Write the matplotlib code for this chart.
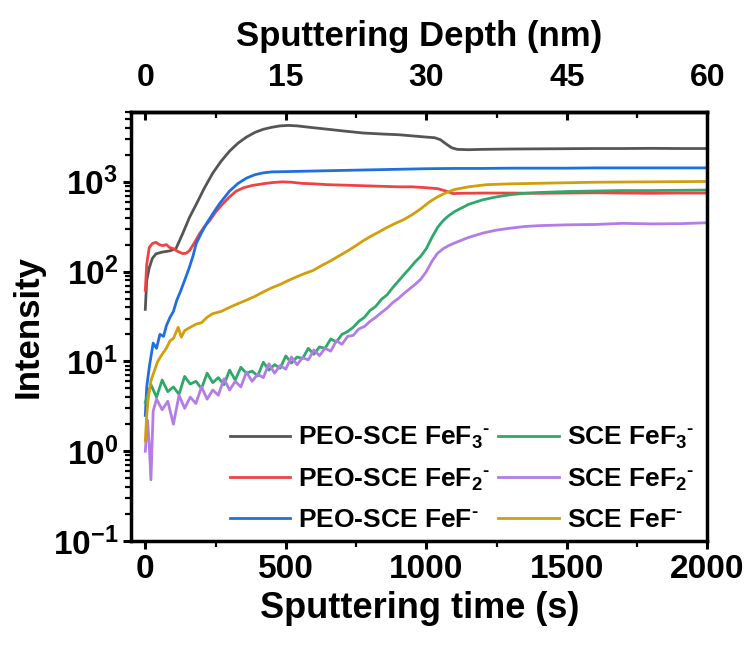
"""ToF-SIMS depth profiles of FeFx- fragments for PEO-SCE and SCE."""
import numpy as np
import matplotlib
matplotlib.use("Agg")
import matplotlib.pyplot as plt
from matplotlib.ticker import FixedLocator, LogLocator, NullFormatter

plt.rcParams["font.family"] = ["Liberation Sans", "DejaVu Sans"]
plt.rcParams["font.weight"] = "bold"
plt.rcParams["mathtext.fontset"] = "custom"
plt.rcParams["mathtext.rm"] = "Liberation Sans:bold"
plt.rcParams["mathtext.bf"] = "Liberation Sans:bold"
plt.rcParams["mathtext.it"] = "Liberation Sans:bold"
plt.rcParams["mathtext.default"] = "bf"

# sputtering time (s) and intensity
peo_fef3_t = [0, 5, 14, 25, 38, 60, 86, 109, 133, 157, 181, 210, 240, 270, 300, 330, 360, 390,
              420, 450, 480, 510, 540, 600, 650, 700, 775, 850, 900, 950, 1000, 1030, 1050,
              1070, 1090, 1110, 1150, 1200, 1300, 1400, 1500, 1600, 1700, 1800, 1900, 2000]
peo_fef3 = [38, 80, 110, 140, 158, 165, 170, 180, 265, 400, 560, 850, 1250, 1700, 2200, 2700,
            3150, 3550, 3850, 4050, 4200, 4250, 4200, 4000, 3850, 3700, 3500, 3400, 3350, 3250,
            3150, 3100, 2950, 2650, 2400, 2300, 2280, 2300, 2320, 2330, 2340, 2350, 2350, 2360,
            2350, 2350]

peo_fef2_t = [0, 5, 14, 25, 38, 50, 62, 75, 86, 100, 115, 133, 145, 157, 175, 193, 210, 229,
              250, 276, 300, 324, 350, 380, 417, 450, 488, 520, 560, 600, 650, 700, 750, 800,
              850, 900, 950, 1000, 1040, 1070, 1095, 1120, 1200, 1300, 1400, 1500, 1600, 1700,
              1800, 1900, 2000]
peo_fef2 = [62, 120, 186, 205, 212, 200, 195, 200, 186, 180, 168, 159, 160, 171, 210, 264, 315,
            370, 460, 570, 680, 790, 860, 910, 950, 980, 1000, 990, 960, 950, 930, 920, 910, 900,
            890, 880, 880, 860, 840, 790, 740, 745, 750, 750, 745, 750, 755, 750, 745, 750, 750]

peo_fef_t = [0, 5, 15, 28, 40, 52, 65, 75, 88, 100, 112, 125, 140, 157, 170, 181, 200, 217, 240,
             264, 300, 330, 360, 390, 420, 450, 500, 600, 700, 800, 900, 1000, 1100, 1200, 1300,
             1400, 1500, 1600, 1700, 1800, 1900, 2000]
peo_fef = [2.5, 5.2, 9, 16, 14, 20, 19, 25, 31, 36, 48, 60, 80, 112, 150, 205, 270, 340, 440,
           570, 790, 960, 1100, 1200, 1260, 1290, 1300, 1320, 1340, 1360, 1380, 1400, 1410,
           1410, 1420, 1420, 1420, 1430, 1430, 1430, 1430, 1430]

sce_fef3_t = [0, 20, 40, 60, 80, 100, 120, 140, 160, 180, 200, 220, 240, 260, 280, 300, 320,
              340, 360, 380, 400, 420, 440, 460, 480, 500, 520, 540, 560, 580, 600, 620, 640,
              660, 680, 700, 720, 740, 760, 780, 800, 820, 840, 860, 880, 900, 920, 940, 960,
              980, 1000, 1020, 1040, 1060, 1080, 1100, 1150, 1200, 1250, 1300, 1350, 1400, 1500,
              1600, 1700, 1800, 1900, 2000]
sce_fef3 = [3.5, 5.5, 4.0, 6.2, 4.6, 5.2, 4.3, 6.8, 5.6, 6.0, 5.0, 7.4, 5.8, 6.6, 5.5, 8.0, 6.2,
            8.6, 7.4, 7.8, 6.9, 9.8, 8.0, 9.2, 8.4, 11.5, 9.6, 11.2, 10.8, 14.0, 12.0, 14.5,
            14.0, 17.8, 16.5, 20, 21.5, 24, 28, 31, 37, 41, 49, 55, 66, 78, 92, 108, 128, 148,
            180, 240, 310, 370, 420, 465, 560, 630, 680, 720, 745, 760, 780, 790, 800, 800, 805,
            810]

sce_fef2_t = [0, 8, 14, 20, 28, 40, 60, 80, 100, 120, 140, 160, 180, 200, 220, 240, 260, 280,
              300, 320, 340, 360, 380, 400, 420, 440, 460, 480, 500, 520, 540, 560, 580, 600,
              620, 640, 660, 680, 700, 720, 740, 760, 780, 800, 820, 840, 860, 880, 900, 920,
              940, 960, 980, 1000, 1020, 1040, 1060, 1080, 1100, 1150, 1200, 1250, 1300, 1350,
              1400, 1500, 1600, 1700, 1800, 1900, 2000]
sce_fef2 = [1.0, 2.2, 1.2, 0.48, 2.8, 3.8, 2.9, 3.6, 2.0, 4.2, 3.0, 4.0, 3.4, 5.2, 3.8, 4.8, 4.2,
            6.4, 4.8, 6.0, 5.2, 7.6, 6.0, 7.2, 6.6, 9.4, 7.4, 9.0, 8.2, 11.2, 9.2, 11.0, 10.4,
            13.4, 11.6, 14.0, 13.0, 17.0, 15.5, 19.0, 19.5, 23, 24.5, 28, 31, 35, 39, 45, 50,
            57, 64, 72, 82, 100, 130, 160, 180, 195, 208, 240, 268, 290, 305, 318, 325, 332,
            335, 345, 340, 342, 350]

sce_fef_t = [0, 5, 10, 20, 30, 44, 60, 75, 88, 100, 117, 128, 140, 160, 181, 200, 220, 240, 270,
             300, 330, 359, 390, 418, 450, 480, 510, 540, 570, 597, 630, 660, 690, 720, 750, 775,
             800, 830, 860, 890, 920, 953, 980, 1012, 1040, 1072, 1100, 1150, 1215, 1300, 1450,
             1600, 1800, 2000]
sce_fef = [1.3, 2.5, 3.8, 6.1, 7.5, 10, 12, 14, 17, 18, 24, 18.6, 22, 24, 26, 27, 31, 34, 36,
           40, 44, 48, 53, 59, 66, 72, 80, 88, 96, 103, 118, 132, 150, 170, 195, 220, 245, 275,
           310, 345, 380, 437, 500, 600, 680, 760, 820, 880, 930, 950, 970, 990, 1000, 1010]

labels = [r"PEO-SCE FeF$_{3}{}^{\text{-}}$", r"PEO-SCE FeF$_{2}{}^{\text{-}}$",
          r"PEO-SCE FeF$^{\text{-}}$", r"SCE FeF$_{3}{}^{\text{-}}$",
          r"SCE FeF$_{2}{}^{\text{-}}$", r"SCE FeF$^{\text{-}}$"]
colors = ["#555555", "#ef4343", "#1f6fe3", "#2fa86a", "#b37ce6", "#d29e0c"]
series = [(peo_fef3_t, peo_fef3), (peo_fef2_t, peo_fef2), (peo_fef_t, peo_fef),
          (sce_fef3_t, sce_fef3), (sce_fef2_t, sce_fef2), (sce_fef_t, sce_fef)]

fig = plt.figure(figsize=(7.5, 6.51), dpi=100)
ax = fig.add_axes([0.175, 0.169, 0.768, 0.659])
for (t, y), c, lab in zip(series, colors, labels):
    ax.plot(t, y, color=c, lw=2, label=lab)

ax.set_yscale("log")
ax.set_xlim(-50, 2000)
ax.set_ylim(0.1, 6000)
ax.set_xticks([0, 500, 1000, 1500, 2000])
ax.xaxis.set_minor_locator(FixedLocator([250, 750, 1250, 1750]))
ax.yaxis.set_major_locator(LogLocator(base=10, numticks=10))
ax.yaxis.set_minor_locator(LogLocator(base=10, subs=np.arange(2, 10), numticks=10))
ax.yaxis.set_minor_formatter(NullFormatter())
ax.tick_params(axis="both", which="major", direction="out", length=6, width=2.2, labelsize=24)
ax.tick_params(axis="both", which="minor", direction="out", length=4, width=1.6)
ax.tick_params(axis="x", which="both", top=False)
ax.tick_params(axis="y", which="both", right=False)
for s in ax.spines.values():
    s.set_linewidth(2.5)

ax.set_xlabel("Sputtering time (s)", fontsize=26, fontweight="bold", labelpad=4)
ax.set_ylabel("Intensity", fontsize=25, fontweight="bold", labelpad=6)

top = ax.secondary_xaxis("top", functions=(lambda t: t * 0.03, lambda d: d / 0.03))
top.set_xticks([0, 15, 30, 45, 60])
top.xaxis.set_minor_locator(FixedLocator([7.5, 22.5, 37.5, 52.5]))
top.tick_params(which="major", direction="in", length=6, width=2.2, labelsize=23, pad=14)
top.tick_params(which="minor", direction="in", length=4, width=1.6)
top.spines["top"].set_linewidth(2.5)
top.set_xlabel("Sputtering Depth (nm)", fontsize=25, fontweight="bold", labelpad=12)

ax.legend(loc="lower right", bbox_to_anchor=(1.0, -0.01), ncol=2, frameon=False, fontsize=19,
          handlelength=2.3, handletextpad=0.3, columnspacing=0.3, labelspacing=0.58,
          borderaxespad=0.1)

fig.savefig("out.png", dpi=100)
